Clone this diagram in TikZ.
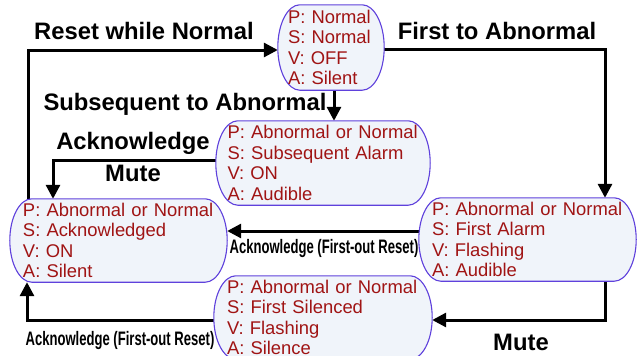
\documentclass[tikz,border=0pt]{standalone}
\usepackage{fontspec}
\setmainfont{Liberation Sans}
\usetikzlibrary{arrows.meta,backgrounds,calc}
\definecolor{txtred}{RGB}{160,20,20}
\definecolor{boxline}{RGB}{95,65,220}
\definecolor{boxfill}{RGB}{240,244,250}
\tikzset{
  state/.style={inner xsep=13pt, inner ysep=0pt, align=left, text=txtred,
    font=\fontsize{18.4}{20.6}\selectfont, minimum height=83pt, text width=191pt},
  lbl/.style={font=\bfseries\fontsize{23.8}{25}\selectfont, inner sep=0pt},
  nlbl/.style={font=\bfseries\fontsize{19.5}{21}\selectfont, inner sep=0pt},
  conn/.style={line width=3pt, -{Triangle[length=14pt,width=14pt]}},
  boxshape/.style={draw=boxline, fill=boxfill, line width=1.1pt}
}
\newcommand{\roundbox}[1]{%
  \path[boxshape] let \p1=(#1.north), \p2=(#1.south), \n1={0.5*abs(\y1-\y2)} in
    ([xshift=22pt]#1.north west) -- ([xshift=-22pt]#1.north east)
    arc[start angle=90, end angle=-90, x radius=22pt, y radius=\n1]
    -- ([xshift=22pt]#1.south west)
    arc[start angle=270, end angle=90, x radius=22pt, y radius=\n1] -- cycle;}
\begin{document}
\begin{tikzpicture}[x=1pt,y=-1pt]
\useasboundingbox (0,0) rectangle (640,356);
% states
\node[state, inner xsep=10pt, text width=86pt, minimum height=85pt] (N) at (331,47.5)
  {P: Normal\\S: Normal\\V: OFF\\A: Silent};
\node[state, inner xsep=11.5pt, text width=191pt, minimum height=84pt] (Sub) at (323,163)
  {P: Abnormal or Normal\\S: Subsequent Alarm\\V: ON\\A: Audible};
\node[state] (Ack) at (118.5,240.5)
  {P: Abnormal or Normal\\S: Acknowledged\\V: ON\\A: Silent};
\node[state] (FA) at (527.5,239.5)
  {P: Abnormal or Normal\\S: First Alarm\\V: Flashing\\A: Audible};
\node[state, text width=192pt] (FS) at (323,317.5)
  {P: Abnormal or Normal\\S: First Silenced\\V: Flashing\\A: Silence};
% labels
\node[lbl] (l1) at (144,31) {Reset while Normal};
\node[lbl] (l2) at (497,31) {First to Abnormal};
\node[lbl] (l3) at (185,104) {Subsequent to Abnormal};
\node[lbl] (l4) at (133,143) {Acknowledge};
\node[lbl] (l5) at (133,173) {Mute};
\node[nlbl] (l6) at (324,248) {\scalebox{0.67}[1]{Acknowledge (First-out Reset)}};
\node[lbl] (l7) at (521,342) {Mute};
\node[nlbl] (l8) at (120,340) {\scalebox{0.67}[1]{Acknowledge (First-out Reset)}};
\begin{pgfonlayer}{background}
% connectors
\draw[conn] ([xshift=19pt,yshift=-3pt]Ack.north west) |- ([yshift=-2.5pt]N.west);
\draw[conn] ([yshift=-1.5pt]N.east) -| ([xshift=77.5pt]FA.north);
\draw[conn] ([xshift=3pt]N.south) -- ([xshift=3pt]N.south |- Sub.north);
\draw[conn] ([yshift=3pt]Sub.west) -| ([xshift=-65.5pt]Ack.north);
\draw[conn] ([yshift=8.5pt]FA.west) -- ([yshift=8.5pt]FA.west -| Ack.east);
\draw[conn] ([xshift=77.5pt]FA.south) |- ([yshift=-2.5pt]FS.east);
\draw[conn] ([yshift=-2.5pt]FS.west) -| ([xshift=-91.5pt]Ack.south);
% boxes
\roundbox{N}
\roundbox{Sub}
\roundbox{Ack}
\roundbox{FA}
\roundbox{FS}
\end{pgfonlayer}
\end{tikzpicture}
\end{document}
